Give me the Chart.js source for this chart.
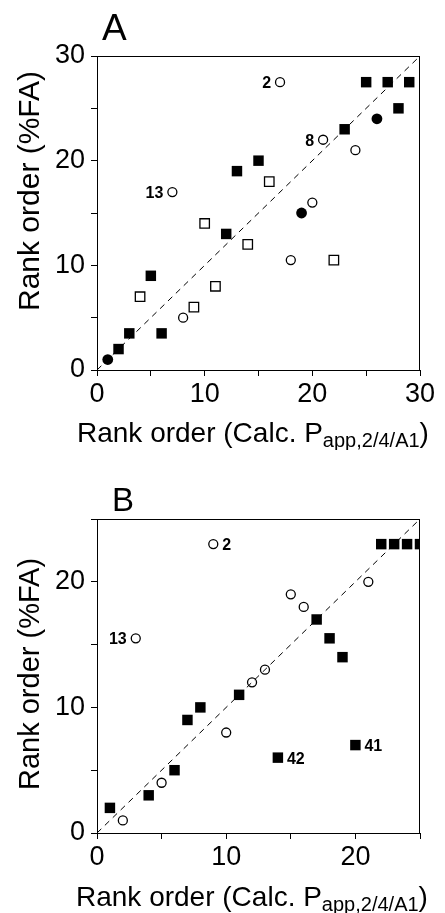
<!DOCTYPE html>
<html><head><meta charset="utf-8">
<script src="https://cdn.jsdelivr.net/npm/chart.js@4/dist/chart.umd.min.js"></script>
<style>
html,body{margin:0;padding:0;background:#fff;}
#wrap{position:relative;width:445px;height:913px;background:#fff;}
canvas{position:absolute;left:0;}
</style></head><body>
<div id="wrap">
<canvas id="cA" width="445" height="450" style="top:0"></canvas>
<canvas id="cB" width="445" height="463" style="top:450px"></canvas>
</div>
<script>
// ---------- Panel A data ----------
const aFilledSqX = [2, 3, 6, 5, 12, 13, 15, 23, 25, 27, 29, 28];
const aFilledSqY = [2, 3.5, 3.5, 9, 13, 19, 20, 23, 27.5, 27.5, 27.5, 25];
const aFilledCircX = [1, 19, 26];
const aFilledCircY = [1, 15, 24];
const aOpenSqX = [4, 9, 11, 10, 14, 16, 22];
const aOpenSqY = [7, 6, 8, 14, 12, 18, 10.5];
const aOpenCircX = [8, 18, 20, 24, 21, 7, 17];
const aOpenCircY = [5, 10.5, 16, 21, 22, 17, 27.5];
const aLabelText = ['2', '8', '13'];
const aLabelX = [17, 21, 7];
const aLabelY = [27.5, 22, 17];
const aTickLabels = [0, 10, 20, 30];
const aMax = 30;

// ---------- Panel B data ----------
const bFilledSqX = [1, 4, 6, 7, 8, 11, 14, 17, 18, 19, 20, 22, 23, 24, 25];
const bFilledSqY = [2, 3, 5, 9, 10, 11, 6, 17, 15.5, 14, 7, 23, 23, 23, 23];
const bOpenCircX = [2, 5, 10, 12, 13, 3, 15, 16, 21, 9];
const bOpenCircY = [1, 4, 8, 12, 13, 15.5, 19, 18, 20, 23];
const bLabelText = ['2', '13', '42', '41'];
const bLabelX = [9, 3, 14, 20];
const bLabelY = [23, 15.5, 6, 7];
const bTickLabels = [0, 10, 20];
const bMax = 25;

const yTitle = 'Rank order (%FA)';
const xTitleMain = 'Rank order (Calc. P';
const xTitleSub = 'app,2/4/A1';
const xTitleEnd = ')';

const FONT = "'Liberation Sans', Arial, sans-serif";

function pts(xs, ys) { return xs.map((x, i) => ({ x: x, y: ys[i] })); }

function scatterSet(data, style, r, filled) {
  return {
    type: 'scatter', data: data, pointStyle: style, pointRadius: r, pointHoverRadius: r,
    backgroundColor: filled ? '#000' : '#fff', borderColor: '#000',
    borderWidth: filled ? 0 : 1.3, order: 1
  };
}

function lineSet(max) {
  return {
    type: 'line', data: [{ x: 0, y: 0 }, { x: max, y: max }], borderColor: '#000',
    borderWidth: 1, borderDash: [6, 5], pointRadius: 0, fill: false, order: 0
  };
}

function axis(max, labels, isX) {
  return {
    type: 'linear', min: 0, max: max,
    ticks: {
      stepSize: 5, autoSkip: false, maxRotation: 0, color: '#000',
      font: { family: FONT, size: 27 }, padding: isX ? 2 : 6,
      callback: (v) => labels.includes(v) ? String(v) : ''
    },
    grid: { drawOnChartArea: false, drawTicks: true, tickLength: 6, color: '#000', lineWidth: 1 },
    border: { display: true, color: '#000', width: 1 },
    afterFit: (s) => { if (isX) s.height = 80; else s.width = 97; }
  };
}

const deco = {
  id: 'deco',
  afterDraw(chart, args, o) {
    const ctx = chart.ctx, ca = chart.chartArea, sx = chart.scales.x, sy = chart.scales.y;
    ctx.save();
    // frame top & right
    ctx.strokeStyle = '#000'; ctx.lineWidth = 1;
    ctx.beginPath();
    ctx.moveTo(ca.left, Math.round(ca.top) + 0.5); ctx.lineTo(ca.right, Math.round(ca.top) + 0.5);
    ctx.moveTo(Math.round(ca.right) - 0.5, ca.top); ctx.lineTo(Math.round(ca.right) - 0.5, ca.bottom);
    ctx.stroke();
    ctx.fillStyle = '#000';
    // panel letter
    ctx.font = o.letterSize + 'px ' + FONT;
    ctx.textAlign = 'left'; ctx.textBaseline = 'alphabetic';
    ctx.fillText(o.letter, o.letterX, o.letterY);
    // y title
    ctx.save();
    ctx.translate(o.yTitleX, o.yTitleY);
    ctx.rotate(-Math.PI / 2);
    ctx.font = o.yTitleSize + 'px ' + FONT;
    ctx.textAlign = 'center';
    ctx.fillText(yTitle, 0, 0);
    ctx.restore();
    // x title with subscript
    let x = o.xTitleX;
    ctx.textAlign = 'left';
    ctx.font = o.xTitleSize + 'px ' + FONT;
    ctx.fillText(xTitleMain, x, o.xTitleY);
    x += ctx.measureText(xTitleMain).width;
    ctx.font = o.xSubSize + 'px ' + FONT;
    ctx.fillText(xTitleSub, x, o.xTitleY + o.xSubShift);
    x += ctx.measureText(xTitleSub).width;
    ctx.font = o.xTitleSize + 'px ' + FONT;
    ctx.fillText(xTitleEnd, x, o.xTitleY);
    // point labels
    ctx.font = 'bold 16px ' + FONT;
    o.labels.text.forEach((t, i) => {
      const px = sx.getPixelForValue(o.labels.x[i]);
      const py = sy.getPixelForValue(o.labels.y[i]);
      const side = o.labels.side[i];
      ctx.textAlign = side < 0 ? 'right' : 'left';
      ctx.fillText(t, px + side * 9, py + 6);
    });
    ctx.restore();
  }
};

function makeChart(id, datasets, max, ticks, padTop, decoOpts) {
  return new Chart(document.getElementById(id), {
    data: { datasets: datasets },
    options: {
      responsive: false, animation: false, devicePixelRatio: 1,
      layout: { padding: { top: padTop, right: 25, left: 0, bottom: 0 } },
      plugins: { legend: { display: false }, tooltip: { enabled: false }, title: { display: false }, deco: decoOpts },
      scales: { x: axis(max, ticks, true), y: axis(max, ticks, false) }
    },
    plugins: [deco]
  });
}

makeChart('cA', [
  lineSet(aMax),
  scatterSet(pts(aOpenCircX, aOpenCircY), 'circle', 4.5, false),
  scatterSet(pts(aOpenSqX, aOpenSqY), 'rect', 6.7, false),
  scatterSet(pts(aFilledCircX, aFilledCircY), 'circle', 5.4, true),
  scatterSet(pts(aFilledSqX, aFilledSqY), 'rect', 7.4, true)
], aMax, aTickLabels, 56, {
  letter: 'A', letterSize: 37, letterX: 102, letterY: 40,
  yTitleX: 39, yTitleY: 191, yTitleSize: 30,
  xTitleX: 77, xTitleY: 442, xTitleSize: 28, xSubSize: 20, xSubShift: 5,
  labels: { text: aLabelText, x: aLabelX, y: aLabelY, side: [-1, -1, -1] }
});

makeChart('cB', [
  lineSet(bMax),
  scatterSet(pts(bOpenCircX, bOpenCircY), 'circle', 4.5, false),
  scatterSet(pts(bFilledSqX, bFilledSqY), 'rect', 7.4, true)
], bMax, bTickLabels, 69, {
  letter: 'B', letterSize: 33, letterX: 112, letterY: 61,
  yTitleX: 39, yTitleY: 224, yTitleSize: 29,
  xTitleX: 76, xTitleY: 456, xTitleSize: 28, xSubSize: 20, xSubShift: 5,
  labels: { text: bLabelText, x: bLabelX, y: bLabelY, side: [1, -1, 1, 1] }
});
</script>
</body></html>
